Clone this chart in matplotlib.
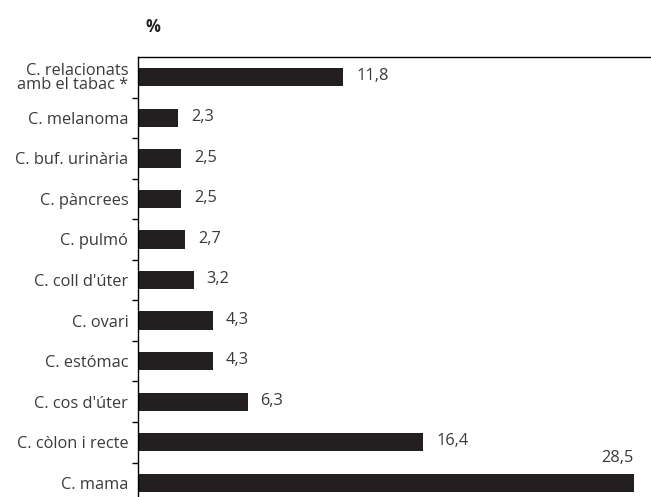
import matplotlib
matplotlib.use("Agg")
import matplotlib.pyplot as plt
import numpy as np

categories = [
    "C. relacionats\namb el tabac *",
    "C. melanoma",
    "C. buf. urinària",
    "C. pàncrees",
    "C. pulmó",
    "C. coll d'úter",
    "C. ovari",
    "C. estómac",
    "C. cos d'úter",
    "C. còlon i recte",
    "C. mama",
]
values = [11.8, 2.3, 2.5, 2.5, 2.7, 3.2, 4.3, 4.3, 6.3, 16.4, 28.5]
value_labels = ["11,8", "2,3", "2,5", "2,5", "2,7", "3,2", "4,3", "4,3", "6,3", "16,4", "28,5"]

plt.rcParams["font.family"] = ["Open Sans", "DejaVu Sans"]
text_color = "#3a3a3a"
bar_color = "#231f20"
fs = 11.8

fig = plt.figure(figsize=(6.51, 4.97), dpi=100)
ax = fig.add_axes([138 / 651, 0.0, 1 - 138 / 651, 1 - 57 / 497])

y = np.arange(len(categories))
ax.barh(y, values, height=0.45, color=bar_color)

ax.set_xlim(0, 29.5)
ax.set_ylim(10.35, -0.5)

for i, (v, lab) in enumerate(zip(values, value_labels)):
    if i == len(values) - 1:
        ax.text(v, i - 0.42, lab, ha="right", va="bottom", fontsize=fs,
                color=text_color)
    else:
        ax.text(v + 0.75, i - 0.02, lab, ha="left", va="center", fontsize=fs,
                color=text_color)

ax.set_yticks(y)
ax.set_yticklabels(categories, fontsize=fs, color=text_color, linespacing=0.85)
ax.tick_params(axis="y", which="major", length=0, pad=7)
ax.set_yticks(np.arange(len(categories) - 1) + 0.5, minor=True)
ax.tick_params(axis="y", which="minor", length=4, width=1, direction="out", color="black")
ax.set_xticks([])

for s in ["right", "bottom"]:
    ax.spines[s].set_visible(False)
for s in ["left", "top"]:
    ax.spines[s].set_linewidth(1.0)
    ax.spines[s].set_color("black")

fig.text(145 / 651, 1 - 27 / 497, "%", fontsize=12, fontweight="bold",
         color="#222222", ha="left", va="center")

fig.savefig("out.png", dpi=100)
